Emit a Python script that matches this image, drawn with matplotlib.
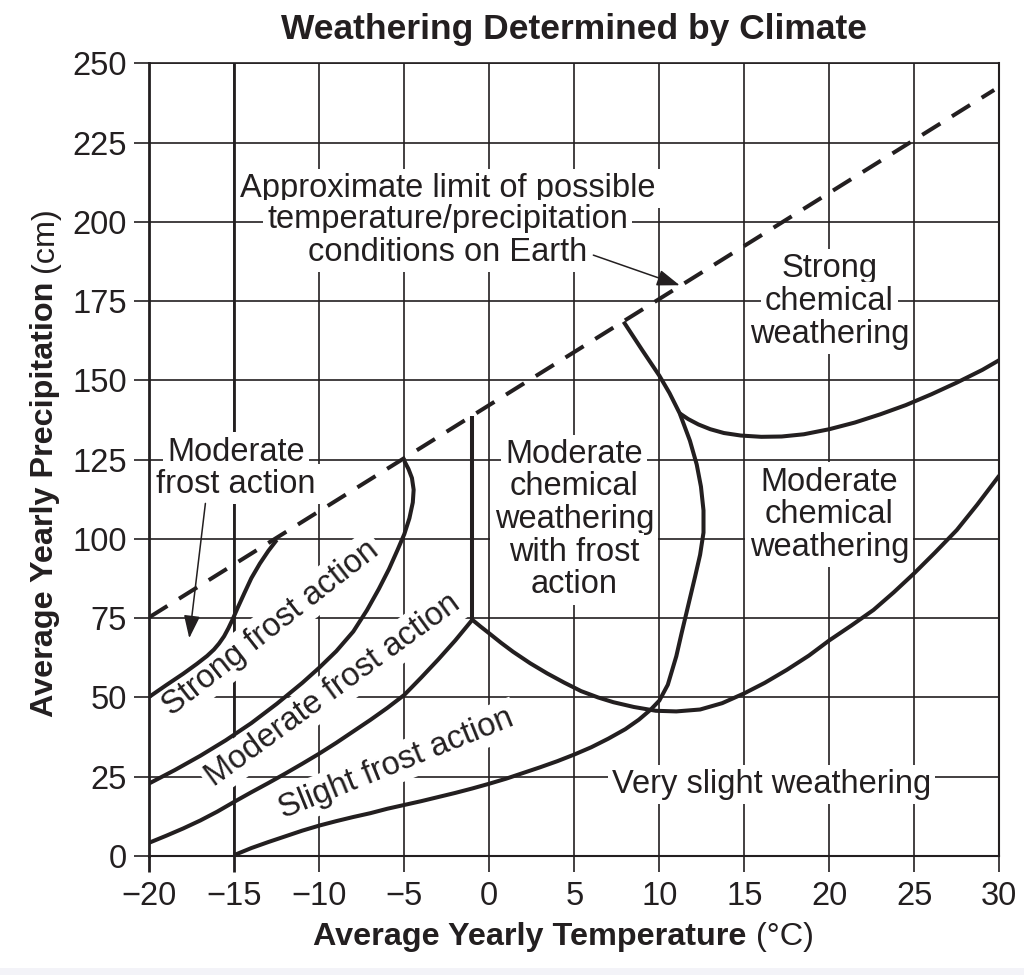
import matplotlib
matplotlib.use("Agg")
import matplotlib.pyplot as plt
from matplotlib.patches import Rectangle

plt.rcParams['font.family'] = ['Liberation Sans', 'DejaVu Sans']

INK = '#231f20'
FS = 23.5

# ---------------- data ----------------
x_ticks = [-20, -15, -10, -5, 0, 5, 10, 15, 20, 25, 30]
y_ticks = [0, 25, 50, 75, 100, 125, 150, 175, 200, 225, 250]

# approximate limit of possible conditions (dashed)
limit_x = [-20.0, 29.7]
limit_y = [75.3, 241.6]

# boundary: moderate frost action / strong frost action
a_x = [-20.0, -19.0, -18.0, -17.2, -16.6, -16.2, -15.9, -15.6, -15.35, -15.1, -14.8, -14.4, -14.0, -13.5, -13.0, -12.5]
a_y = [50.2, 53.9, 57.5, 60.6, 63.1, 65.1, 67.0, 69.3, 71.8, 74.6, 78.3, 83.0, 87.6, 92.2, 96.2, 99.7]

# boundary: strong frost action / moderate frost action
b_x = [-20.0, -18.5, -17.0, -15.5, -14.0, -12.5, -11.0, -10.0, -9.0, -8.0, -7.2, -6.5, -5.9,
       -5.4, -5.0, -4.7, -4.5, -4.45, -4.55, -4.75, -5.0]
b_y = [22.9, 27.1, 31.6, 36.5, 41.9, 48.0, 54.6, 59.4, 64.6, 70.8, 77.5, 84.2, 90.5,
       96.5, 101.5, 106.5, 111.5, 115.5, 119.2, 122.0, 124.6]

# boundary: moderate frost action / slight frost action
c_x = [-20.0, -19.0, -18.0, -17.0, -16.0, -15.0, -14.0, -13.0, -12.0, -11.0, -10.0, -9.0, -8.0,
       -7.0, -6.0, -5.0, -4.0, -3.0, -2.0, -1.0]
c_y = [4.2, 6.4, 8.7, 11.2, 14.0, 17.1, 20.1, 23.0, 26.0, 29.1, 32.3, 35.7, 39.3,
       42.9, 46.7, 50.8, 56.3, 62.0, 68.0, 74.5]

# vertical boundary at -1 C
v_x = [-1.0, -1.0]
v_y = [74.5, 138.9]

# boundary: frost action / very slight & moderate chemical
d_x = [-1.0, -0.5, 0.0, 0.7, 1.4, 2.4, 3.4, 4.4, 5.4, 6.4, 7.3, 8.5, 9.8, 11.0, 12.4, 13.7,
       15.0, 16.2, 17.5, 18.8, 20.0, 21.3, 22.6, 23.8, 25.0, 26.2, 27.5, 28.7, 30.0]
d_y = [74.5, 72.3, 70.2, 67.2, 64.4, 60.8, 57.6, 54.7, 52.0, 50.0, 48.5, 47.0, 45.8, 45.6, 46.2, 48.2,
       51.3, 54.6, 58.7, 63.2, 68.0, 72.7, 77.6, 83.2, 89.2, 95.6, 102.8, 110.8, 120.0]

# boundary: slight frost / very slight weathering, arcing up to the limit line
e_x = [-15.0, -14.0, -13.0, -12.0, -11.0, -10.0, -9.0, -8.0, -7.0, -6.0, -5.0, -4.0, -3.0, -2.0,
       -1.0, 0.0, 1.0, 2.0, 3.0, 4.0, 5.0, 6.0, 7.0, 8.0, 8.8, 9.5, 10.0, 10.5, 11.0, 11.3,
       11.7, 12.1, 12.4, 12.6, 12.6, 12.45, 12.2, 11.8, 11.2, 10.6, 10.0, 9.0, 7.9]
e_y = [0.3, 2.5, 4.4, 6.2, 8.0, 9.6, 11.0, 12.3, 13.5, 14.9, 16.1, 17.3, 18.6, 19.9,
       21.3, 22.8, 24.4, 26.2, 28.0, 29.9, 32.0, 34.3, 37.0, 40.0, 43.0, 46.2, 49.0, 54.0, 63.0, 70.0,
       79.0, 88.0, 95.0, 102.0, 109.0, 116.5, 123.5, 131.0, 139.6, 146.0, 151.5, 159.5, 168.5]

# boundary: strong chemical / moderate chemical weathering
f_x = [11.2, 11.7, 12.3, 13.0, 13.8, 14.8, 16.0, 17.2, 18.5, 20.0, 21.5, 23.0, 24.5, 26.0, 27.5, 29.0, 30.0]
f_y = [139.6, 137.8, 136.1, 134.6, 133.4, 132.6, 132.2, 132.3, 133.0, 134.6, 136.7, 139.3, 142.2, 145.6, 149.3, 153.3, 156.4]

# ---------------- figure ----------------
fig = plt.figure(figsize=(10.24, 9.75), dpi=100)
fig.patches.append(Rectangle((0, 0), 1, 7.5 / 975, transform=fig.transFigure,
                             facecolor='#f3f3f8', edgecolor='none', zorder=0))
ax = fig.add_axes([149.3 / 1024, 119 / 975, 850 / 1024, 792.7 / 975])
ax.set_xlim(-20, 30)
ax.set_ylim(0, 250)
ax.set_xticks(x_ticks)
ax.set_yticks(y_ticks)
ax.grid(True, color=INK, lw=1.2)
ax.set_axisbelow(True)

ax.tick_params(axis='both', direction='out', color=INK, width=1.2,
               labelsize=FS, labelcolor=INK)
ax.tick_params(axis='x', length=11.5, pad=6.5)
ax.tick_params(axis='y', length=10.8, pad=5.5)
for t, loc in zip(ax.xaxis.get_major_ticks(), x_ticks):
    if loc in (-20, -15):
        t.tick1line.set_markeredgewidth(2.0)

for side, lw in (('left', 2.0), ('bottom', 1.5), ('top', 1.2), ('right', 1.5)):
    ax.spines[side].set_linewidth(lw)
    ax.spines[side].set_color(INK)

ax.axvline(-15, color=INK, lw=2.0, zorder=1)

# curves
LW = 2.9
ax.plot(limit_x, limit_y, color=INK, lw=LW, dashes=(5.3, 3.4), zorder=4)
for xs, ys in ((a_x, a_y), (b_x, b_y), (c_x, c_y), (v_x, v_y), (d_x, d_y), (e_x, e_y), (f_x, f_y)):
    ax.plot(xs, ys, color=INK, lw=LW, solid_joinstyle='round', solid_capstyle='butt', zorder=4)

# region labels (one text per line so each line knocks out the grid)
box = dict(facecolor='white', edgecolor='none', pad=3)


def block(lines, x, baselines):
    for s, y in zip(lines, baselines):
        ax.text(x, y, s, ha='center', va='baseline', fontsize=FS, color=INK,
                bbox=box, zorder=3)


block(['Approximate limit of possible', 'temperature/precipitation', 'conditions on Earth'],
      -2.45, [207.9, 197.9, 187.7])
block(['Strong', 'chemical', 'weathering'], 20.0, [182.6, 172.2, 161.8])
block(['Moderate', 'chemical', 'weathering'], 20.0, [115.2, 104.9, 94.6])
block(['Moderate', 'chemical', 'weathering', 'with frost', 'action'], 5.0,
      [124.0, 113.9, 103.3, 93.0, 82.8])
block(['Moderate', 'frost action'], -14.9, [124.7, 114.6])
block(['Very slight weathering'], 16.6, [19.8])

for s, x, y, rot in (('Strong frost action', -12.85, 71.8, 38),
                     ('Moderate frost action', -9.18, 52.3, 36),
                     ('Slight frost action', -5.45, 29.2, 22)):
    ax.text(x, y, s, ha='center', va='center', rotation=rot, rotation_mode='anchor',
            fontsize=FS, color=INK, bbox=box, zorder=3)

arrow = dict(arrowstyle='-|>,head_length=0.7,head_width=0.25', color=INK, lw=1.1,
             mutation_scale=20, shrinkA=0, shrinkB=0)
ax.annotate('', xy=(11.2, 180.0), xytext=(6.12, 189.5), arrowprops=arrow, zorder=5)
ax.annotate('', xy=(-17.65, 68.7), xytext=(-16.7, 111.2), arrowprops=arrow, zorder=5)

# titles / axis labels
fig.text(280.7 / 1024, (975 - 39.3) / 975, 'Weathering Determined by Climate',
         fontsize=25.5, weight='bold', ha='left', va='baseline', color=INK)

renderer = fig.canvas.get_renderer()
xl = fig.text(313.3 / 1024, (975 - 945) / 975, 'Average Yearly Temperature',
              fontsize=23.3, weight='bold', ha='left', va='baseline', color=INK)
bb = xl.get_window_extent(renderer)
fig.text((bb.x1 + 9) / 1024, (975 - 945) / 975, '(°C)',
         fontsize=23.3, ha='left', va='baseline', color=INK)

yl = fig.text(53.3 / 1024, (975 - 716.7) / 975, 'Average Yearly Precipitation',
              fontsize=23.3, weight='bold', rotation=90, rotation_mode='anchor',
              ha='left', va='baseline', color=INK)
bb = yl.get_window_extent(renderer)
fig.text(53.3 / 1024, (bb.y1 + 9) / 975, '(cm)',
         fontsize=23.3, rotation=90, rotation_mode='anchor',
         ha='left', va='baseline', color=INK)

fig.savefig('out.png', dpi=100)
